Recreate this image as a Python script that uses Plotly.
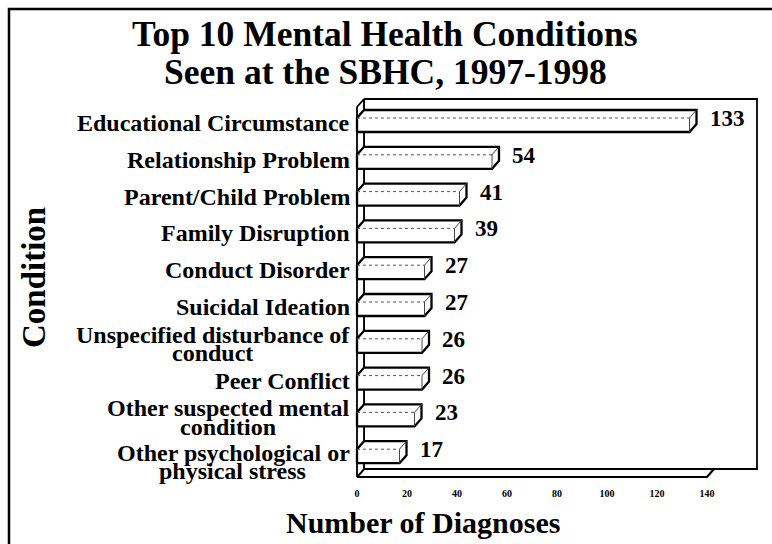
import plotly.graph_objects as go

# Data: diagnoses per condition, top to bottom
categories = [
    "Educational Circumstance",
    "Relationship Problem",
    "Parent/Child Problem",
    "Family Disruption",
    "Conduct Disorder",
    "Suicidal Ideation",
    "Unspecified disturbance of<br>conduct",
    "Peer Conflict",
    "Other suspected mental<br>condition",
    "Other psychological or<br>physical stress",
]
diagnoses = [133, 54, 41, 39, 27, 27, 26, 26, 23, 17]
tick_values = [0, 20, 40, 60, 80, 100, 120, 140]
tick_labels = ["0", "20", "40", "60", "80", "100", "120", "140"]

title_lines = ["Top 10 Mental Health Conditions", "Seen at the SBHC, 1997-1998"]
x_title = "Number of Diagnoses"
y_title = "Condition"

W, H = 772, 544
PLOT_H = 486               # plot area height (ticks sit just below it)
PX_UNIT = 2.5              # pixels per diagnosis
X0_PX = 357                # pixel of value 0
SLOT_PX = 36.8             # pixels per category slot
Y0_PX = 121                # pixel centre of first category

SERIF = "Liberation Serif, Times New Roman, serif"

# 3-D extrusion of each bar (in axis units)
DX = 7 / PX_UNIT
DY = 8 / SLOT_PX
HALF = 11 / SLOT_PX
AX_MAX = 140

# Times-Bold advance widths (per 1000 em) used to centre wrapped label lines
_TB = {" ": 250, "a": 500, "b": 556, "c": 444, "d": 556, "e": 444, "f": 333,
       "g": 500, "h": 556, "i": 278, "j": 333, "k": 556, "l": 278, "m": 833,
       "n": 556, "o": 500, "p": 556, "q": 556, "r": 444, "s": 389, "t": 333,
       "u": 556, "v": 500, "w": 722, "x": 500, "y": 500, "z": 444,
       "O": 778, "U": 722, "/": 278}


def text_width(s, size):
    return sum(_TB.get(ch, 600) for ch in s) * size / 1000.0


fig = go.Figure()

# ---- frame of the 3-D chart: back wall, floor, left wall ----
wall_top = (99 - Y0_PX) / SLOT_PX
wall_bot = (469 - Y0_PX) / SLOT_PX
wall_right = (757 - X0_PX) / PX_UNIT
floor_front = wall_bot + DY

fig.add_trace(go.Scatter(
    x=[DX, wall_right, wall_right, DX, DX],
    y=[wall_top, wall_top, wall_bot, wall_bot, wall_top],
    mode="lines", fill="toself", fillcolor="white",
    line=dict(color="black", width=1.8), hoverinfo="skip", showlegend=False))
fig.add_trace(go.Scatter(
    x=[0, AX_MAX, AX_MAX + DX, DX, 0],
    y=[floor_front, floor_front, wall_bot, wall_bot, floor_front],
    mode="lines", fill="toself", fillcolor="white",
    line=dict(color="black", width=2.2), hoverinfo="skip", showlegend=False))
fig.add_trace(go.Scatter(
    x=[0, 0, DX, DX, 0],
    y=[floor_front, wall_top + DY, wall_top, wall_bot, floor_front],
    mode="lines", fill="toself", fillcolor="white",
    line=dict(color="black", width=1.8), hoverinfo="skip", showlegend=False))

# ---- bars ----
for i, v in enumerate(diagnoses):
    yc = i
    top_b = yc - HALF          # back top edge
    top_f = yc - HALF + DY     # front top edge
    bot_f = yc + HALF          # front bottom edge
    bot_b = yc + HALF - DY     # back bottom edge
    fig.add_trace(go.Scatter(
        x=[0, 0, DX, v + DX, v + DX, v, 0],
        y=[bot_f, top_f, top_b, top_b, bot_b, bot_f, bot_f],
        mode="lines", fill="toself", fillcolor="white",
        line=dict(color="black", width=2.3), hoverinfo="skip", showlegend=False))
    # inner edges of the box
    fig.add_trace(go.Scatter(
        x=[0, v], y=[top_f, top_f], mode="lines",
        line=dict(color="#555", width=1, dash="dot"),
        hoverinfo="skip", showlegend=False))
    fig.add_trace(go.Scatter(
        x=[v, v + DX, None, v, v], y=[top_f, top_b, None, top_f, bot_f],
        mode="lines", line=dict(color="#444", width=1),
        hoverinfo="skip", showlegend=False))

annotations = []

# value labels
for i, v in enumerate(diagnoses):
    annotations.append(dict(
        x=v + DX + 4.5, y=i - 2.5 / SLOT_PX, xref="x", yref="y",
        text=str(v), showarrow=False, xanchor="left", yanchor="middle",
        font=dict(family=SERIF, size=23, color="black", weight="bold")))

# category labels (tight leading for wrapped names)
LAB_SIZE = 24
LEAD = 18.5                    # visual line spacing in px
LAB_X = -2.2                   # right edge of label column, axis units
label_nudge_px = {9: 8}        # extra downward shift for the last label
lab_font = dict(family=SERIF, size=LAB_SIZE, color="black", weight="bold")
for i, name in enumerate(categories):
    lines = name.split("<br>")
    yc_px = Y0_PX + SLOT_PX * i + 2 + label_nudge_px.get(i, 0)
    if len(lines) == 1:
        annotations.append(dict(
            x=LAB_X, y=(yc_px - Y0_PX) / SLOT_PX, xref="x", yref="y",
            text=name, showarrow=False, xanchor="right", yanchor="middle",
            font=lab_font))
    else:
        y1 = yc_px - LEAD / 2
        y2 = yc_px + LEAD / 2
        annotations.append(dict(
            x=LAB_X, y=(y1 - Y0_PX) / SLOT_PX, xref="x", yref="y",
            text=lines[0], showarrow=False, xanchor="right", yanchor="middle",
            font=lab_font))
        # second line centred under the first
        centre = LAB_X - (2 + text_width(lines[0], LAB_SIZE) / 2) / PX_UNIT
        annotations.append(dict(
            x=centre, y=(y2 - Y0_PX) / SLOT_PX, xref="x", yref="y",
            text=lines[1], showarrow=False, xanchor="center", yanchor="middle",
            font=lab_font))

# title lines
for txt, ypx in zip(title_lines, (34, 72)):
    annotations.append(dict(
        x=385 / W, y=1 - ypx / PLOT_H, xref="paper", yref="paper",
        text=txt, showarrow=False, xanchor="center", yanchor="middle",
        font=dict(family=SERIF, size=35.5, color="black", weight="bold")))

# axis titles
annotations.append(dict(
    x=423 / W, y=1 - 522 / PLOT_H, xref="paper", yref="paper",
    text=x_title, showarrow=False, xanchor="center", yanchor="middle",
    font=dict(family=SERIF, size=30, color="black", weight="bold")))
annotations.append(dict(
    x=34 / W, y=1 - 278 / PLOT_H, xref="paper", yref="paper",
    text=y_title, showarrow=False, xanchor="center", yanchor="middle",
    textangle=-90,
    font=dict(family=SERIF, size=33, color="black", weight="bold")))

# outer box of the page
shapes = [dict(
    type="rect", xref="paper", yref="paper",
    x0=9 / W, x1=1.05, y0=-0.3, y1=1 - 9 / PLOT_H,
    line=dict(color="black", width=2.5))]

fig.update_layout(
    width=W, height=H,
    margin=dict(l=0, r=0, t=0, b=H - PLOT_H),
    paper_bgcolor="white", plot_bgcolor="white",
    showlegend=False,
    annotations=annotations, shapes=shapes,
    xaxis=dict(
        range=[-X0_PX / PX_UNIT, (W - X0_PX) / PX_UNIT],
        tickvals=tick_values, ticktext=tick_labels,
        showgrid=False, zeroline=False, showline=False, ticks="",
        tickfont=dict(family=SERIF, size=10, color="black", weight="bold"),
        fixedrange=True),
    yaxis=dict(
        range=[(PLOT_H - Y0_PX) / SLOT_PX, -Y0_PX / SLOT_PX],
        visible=False, fixedrange=True),
)

fig.write_html("out.html")
